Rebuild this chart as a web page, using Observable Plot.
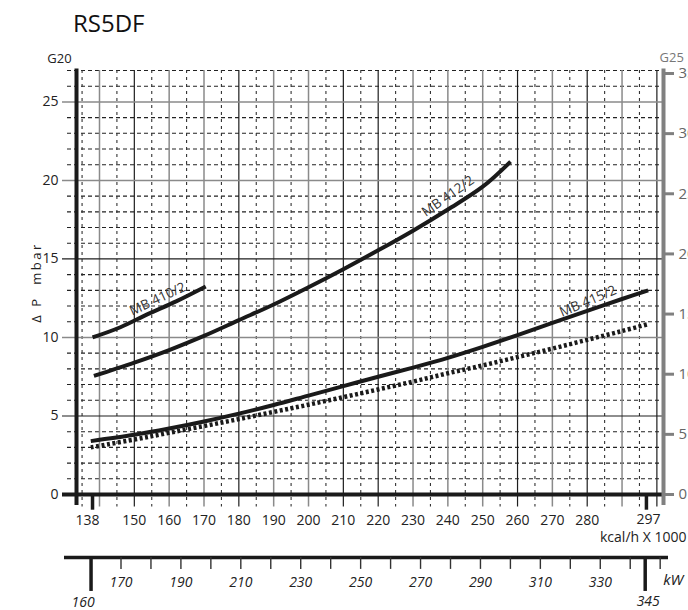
<!DOCTYPE html>
<html><head><meta charset="utf-8">
<script src="https://cdn.jsdelivr.net/npm/d3@7"></script>
<script src="https://cdn.jsdelivr.net/npm/@observablehq/plot@0.6"></script>
<style>
body{margin:0;background:#fff;}
#wrap{width:688px;height:610px;overflow:hidden;position:relative;font-family:"Open Sans",sans-serif;}
#title{position:absolute;left:73px;top:7px;font-size:24px;color:#111;line-height:32px;}
#main{position:absolute;left:0;top:50px;}
#kw{position:absolute;left:0;top:545px;}
</style></head><body>
<div id="wrap"><div id="title">RS5DF</div><div id="main"></div><div id="kw"></div></div>
<script>
// ---- data ----
const mb410Kcal = [138, 146, 154, 162, 170.5];
const mb410Dp   = [10.0, 10.65, 11.5, 12.3, 13.25];
const mb412Kcal = [138.4, 150, 160, 170, 180, 190, 200, 210, 220, 230, 240, 250, 258];
const mb412Dp   = [7.55, 8.4, 9.2, 10.1, 11.1, 12.1, 13.2, 14.35, 15.55, 16.8, 18.15, 19.6, 21.2];
const mb415Kcal = [137.5, 150, 160, 170, 180, 190, 200, 210, 220, 230, 240, 250, 260, 270, 280, 290, 297.5];
const mb415Dp   = [3.4, 3.8, 4.2, 4.65, 5.15, 5.7, 6.3, 6.9, 7.5, 8.08, 8.7, 9.4, 10.15, 10.93, 11.7, 12.45, 13.0];
const dotKcal   = [137.5, 150, 160, 170, 180, 190, 200, 210, 220, 230, 240, 250, 260, 270, 280, 290, 297.5];
const dotDp     = [3.0, 3.5, 3.93, 4.36, 4.8, 5.26, 5.72, 6.2, 6.69, 7.19, 7.72, 8.22, 8.75, 9.29, 9.85, 10.41, 10.85];
const curveNames  = ["MB 410/2", "MB 412/2", "MB 415/2"];
const labelKcal   = [156.7, 240.0, 280.2];
const labelDp     = [12.45, 19.0, 12.3];
const labelAngle  = [-25, -35, -23];
const xTickLabels = [150, 160, 170, 180, 190, 200, 210, 220, 230, 240, 250, 260, 270, 280];
const xSpecial    = [138, 297];
const g20Ticks    = [0, 5, 10, 15, 20, 25];
const g25Ticks    = [0, 5, 10, 15, 20, 25, 30, 35];
const g25ToG20    = 0.766;
const kwTicks     = [170, 180, 190, 200, 210, 220, 230, 240, 250, 260, 270, 280, 290, 300, 310, 320, 330, 340, 350];
const kwLabels    = [170, 190, 210, 230, 250, 270, 290, 310, 330];
const kwSpecial   = [160, 345];
const kwPerKcal   = 1.163;

// ---- grid definitions ----
const xMin = 133.4, xMax = 301.9;
const majorX = d3.range(140, 301, 10);
const darkX = [150, 180, 210, 220, 260, 280, 300];
const minorX = d3.range(135, 300, 10);
const majorY = [5, 10, 15, 20, 25];
const darkY = [5, 15];
const minorY = d3.range(1, 28).filter(v => v % 5 !== 0);

const toRows = (xs, ys) => xs.map((x, i) => ({x, y: ys[i]}));
const ink = "#1a1a1a";
const pxPerKcal = 587 / (xMax - xMin);
const txt = {fill: "#222", fontSize: 14, lineAnchor: "middle"};

const main = Plot.plot({
  width: 688, height: 495,
  marginTop: 20, marginBottom: 51, marginLeft: 76, marginRight: 25,
  style: {fontFamily: "Open Sans, sans-serif", fontSize: "14px", color: "#222", background: "transparent", overflow: "visible"},
  x: {domain: [xMin, xMax], axis: null},
  y: {domain: [0, 27], axis: null},
  marks: [
    Plot.ruleY(minorY, {x1: xMin - 9 / pxPerKcal, x2: xMax, stroke: "#222", strokeWidth: 1.1, strokeDasharray: "4,3"}),
    Plot.ruleX(minorX, {y1: 27, y2: -0.8, stroke: "#333", strokeWidth: 1.1, strokeDasharray: "3,4"}),
    Plot.ruleX(majorX.filter(v => !darkX.includes(v)), {y1: 27, y2: -0.8, stroke: "#8a8a8a", strokeWidth: 1.5}),
    Plot.ruleX(majorX.filter(v => darkX.includes(v)), {y1: 27, y2: -0.8, stroke: "#1e1e1e", strokeWidth: 1.2}),
    Plot.ruleY(majorY.filter(v => !darkY.includes(v)), {x1: xMin - 14 / pxPerKcal, x2: xMax, stroke: "#8a8a8a", strokeWidth: 1.5}),
    Plot.ruleY(majorY.filter(v => darkY.includes(v)), {x1: xMin - 14 / pxPerKcal, x2: xMax, stroke: "#1e1e1e", strokeWidth: 1.2}),
    Plot.line(toRows(dotKcal, dotDp), {x: "x", y: "y", stroke: ink, strokeWidth: 4.5, strokeDasharray: "3,2.5", strokeLinecap: "butt", curve: "catmull-rom"}),
    Plot.line(toRows(mb415Kcal, mb415Dp), {x: "x", y: "y", stroke: ink, strokeWidth: 4, strokeLinecap: "butt", curve: "catmull-rom"}),
    Plot.line(toRows(mb412Kcal, mb412Dp), {x: "x", y: "y", stroke: ink, strokeWidth: 4, strokeLinecap: "butt", curve: "catmull-rom"}),
    Plot.line(toRows(mb410Kcal, mb410Dp), {x: "x", y: "y", stroke: ink, strokeWidth: 4, strokeLinecap: "butt", curve: "catmull-rom"}),
    Plot.ruleY([0], {x1: xMin - 14 / pxPerKcal, x2: xMax, stroke: ink, strokeWidth: 4}),
    Plot.ruleX([xMin], {y1: 27.1, y2: -0.7, stroke: ink, strokeWidth: 4}),
    Plot.ruleX([xMax], {y1: 27.1, y2: -0.7, stroke: "#808080", strokeWidth: 4}),
    Plot.ruleX(xSpecial, {y1: 0, y2: -1.0, stroke: ink, strokeWidth: 3.5}),
    Plot.axisY(g25Ticks.map(v => v * g25ToG20), {anchor: "right", tickSize: 10, tickPadding: 5, strokeWidth: 3, stroke: "#808080", fill: "#666", fontSize: 15, tickFormat: d => String(Math.round(d / g25ToG20)), label: null}),
    Plot.text(g20Ticks, {y: d => d, frameAnchor: "left", dx: -18, textAnchor: "end", ...txt}),
    Plot.text(xTickLabels, {x: d => d, frameAnchor: "bottom", dy: 26, ...txt}),
    Plot.text([xSpecial[0]], {x: d => d, frameAnchor: "bottom", dy: 26, dx: -5, ...txt}),
    Plot.text([xSpecial[1]], {x: d => d, frameAnchor: "bottom", dy: 25, dx: 2, ...txt}),
    Plot.text(["kcal/h X 1000"], {frameAnchor: "bottom-right", dx: 23, dy: 43, textAnchor: "end", ...txt}),
    Plot.text(["G20"], {frameAnchor: "top-left", dx: -17, dy: -12, textAnchor: "middle", ...txt, fontSize: 13}),
    Plot.text(["G25"], {frameAnchor: "top-right", dx: -4, dy: -13, textAnchor: "start", ...txt, fill: "#777", fontSize: 13}),
    Plot.text(["Δ P  mbar"], {frameAnchor: "left", dx: -40, rotate: -90, textAnchor: "middle", ...txt, fontSize: 13}),
    Plot.text(curveNames, {x: (d, i) => labelKcal[i], y: (d, i) => labelDp[i], rotate: (d, i) => labelAngle[i], text: d => d, fill: "#333", fontSize: 13.5})
  ]
});
d3.select(main).selectAll("text").filter(function(){ return this.textContent === "Δ P  mbar"; }).attr("letter-spacing", "2.5px");
document.getElementById("main").appendChild(main);

const kw = Plot.plot({
  width: 688, height: 65,
  marginTop: 0, marginBottom: 0, marginLeft: 76, marginRight: 25,
  style: {fontFamily: "Open Sans, sans-serif", fontSize: "14px", color: "#222", background: "transparent", overflow: "visible"},
  x: {domain: [xMin, xMax], axis: null},
  y: {domain: [0, 1], range: [12, 47], axis: null},
  marks: [
    Plot.ruleY([0], {x1: xMin - 12 / pxPerKcal, x2: xMax + 5 / pxPerKcal, stroke: ink, strokeWidth: 3.5}),
    Plot.ruleX(kwTicks, {x: d => d / kwPerKcal, y1: 0, y2: 0.34, stroke: "#333", strokeWidth: 1.4}),
    Plot.ruleX(kwSpecial, {x: d => d / kwPerKcal, y1: 0, y2: 0.97, stroke: ink, strokeWidth: 3.5}),
    Plot.text(kwLabels, {x: d => d / kwPerKcal, y: 0.71, fontStyle: "italic", fill: "#222", fontSize: 14}),
    Plot.text([kwSpecial[0]], {x: d => d / kwPerKcal, y: 1.29, dx: -8, fontStyle: "italic", fill: "#222", fontSize: 14}),
    Plot.text([kwSpecial[1]], {x: d => d / kwPerKcal, y: 1.27, dx: 3, fontStyle: "italic", fill: "#222", fontSize: 14}),
    Plot.text(["kW"], {x: 350 / kwPerKcal, y: 0.66, dx: 3, textAnchor: "start", fontStyle: "italic", fill: "#222", fontSize: 15})
  ]
});
document.getElementById("kw").appendChild(kw);
</script>
</body></html>
